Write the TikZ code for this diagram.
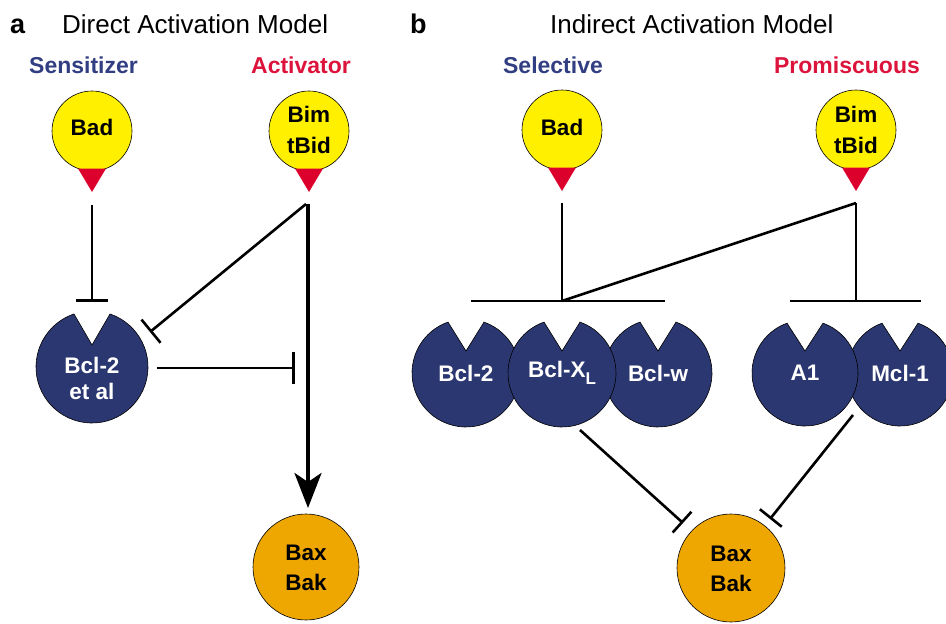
\documentclass[tikz,border=0pt]{standalone}
\usepackage{fontspec}
\setmainfont{Liberation Sans}
\usetikzlibrary{arrows.meta,calc}
\definecolor{navy}{RGB}{43,55,112}
\definecolor{pinyellow}{RGB}{255,240,0}
\definecolor{pinred}{RGB}{220,0,45}
\definecolor{baxorange}{RGB}{238,166,0}
\definecolor{labelblue}{RGB}{50,62,130}
\definecolor{labelred}{RGB}{220,20,60}
\tikzset{
  lbl/.style={font=\fontsize{22.5}{31}\selectfont\bfseries, inner sep=0pt, align=center},
  wlbl/.style={lbl, text=white},
  head/.style={font=\fontsize{26}{30}\selectfont, inner sep=0pt, anchor=base west},
  panel/.style={font=\fontsize{27}{30}\selectfont\bfseries, inner sep=0pt, anchor=base west},
  grp/.style={font=\fontsize{23}{27}\selectfont\bfseries, inner sep=0pt, anchor=base},
  conn/.style={line width=2.6pt},
  inh/.style={conn, -{Bar[width=30pt]}},
  act/.style={line width=3.8pt, -{Stealth[length=35pt,width=27pt,inset=9pt]}},
  outline/.style={draw=black, line width=0.6pt}
}
% pin: name, x, y
\newcommand\pinshape[3]{%
  \fill[pinyellow, outline] (#2,#3) circle[radius=40];
  \fill[pinred] ({#2-14},{#3+37.5}) -- ({#2+14},{#3+37.5}) -- (#2,{#3+61}) -- cycle;
  \coordinate (#1-tip) at (#2,{#3+61});
}
% notched circle: x, y, r
\newcommand\notchshape[3]{%
  \fill[navy, outline] ({#1+18},{#2-sqrt(#3*#3-324)})
    arc[start angle={-90+asin(18/#3)}, end angle={270-asin(18/#3)}, radius=#3]
    -- (#1,{#2-22}) -- cycle;
}
\begin{document}
\begin{tikzpicture}[x=1pt,y=-1pt]
\useasboundingbox (0,0) rectangle (946,624);

% ---------- headings ----------
\node[panel] (pa) at (10,33) {a};
\node[head] (ta) at (62,33) {Direct Activation Model};
\node[panel] (pb) at (410,33) {b};
\node[head] (tb) at (550,33) {Indirect Activation Model};

\node[grp, text=labelblue] (sens) at (83.5,73) {Sensitizer};
\node[grp, text=labelred] (actv) at (301,73) {Activator};
\node[grp, text=labelblue] (sel) at (553,73) {Selective};
\node[grp, text=labelred] (prom) at (847,73) {Promiscuous};

% ---------- panel a ----------
\pinshape{aBad}{92}{131}
\node[lbl] (aBadT) at (92,127) {Bad};
\pinshape{aBim}{309}{131}
\node[lbl] (aBimT) at (309,130) {Bim\\tBid};

\notchshape{92}{367}{56}
\node[wlbl, font=\fontsize{22.5}{26}\selectfont\bfseries] (aBcl) at (92,378) {Bcl-2\\et al};

\fill[baxorange, outline] (306,567) circle[radius=53];
\node[lbl, font=\fontsize{22.5}{30}\selectfont\bfseries] (aBax) at (306,568) {Bax\\Bak};

\coordinate (a1s) at (92,205);
\coordinate (a1e) at (92,302);
\coordinate (a2s) at (306,204);
\coordinate (a2e) at (150,332);
\coordinate (a3s) at (157,368);
\coordinate (a3e) at (295,368);
\coordinate (a4s) at (308,204);
\coordinate (a4e) at (308,508);

\draw[inh, -{Bar[width=32pt]}] (a1s) -- (a1e);
\draw[inh] (a2s) -- (a2e);
\draw[inh, -{Bar[width=32pt]}] (a3s) -- (a3e);
\draw[act] (a4s) -- (a4e);

% ---------- panel b ----------
\pinshape{bBad}{562}{130}
\node[lbl] (bBadT) at (562,127) {Bad};
\pinshape{bBim}{856}{130}
\node[lbl] (bBimT) at (856,130) {Bim\\tBid};

\notchshape{466}{373}{54}
\notchshape{658}{373}{54}
\notchshape{562}{373}{54}
\notchshape{900}{373}{53}
\notchshape{805}{373}{53}
\node[wlbl] (bBcl2) at (466,373) {Bcl-2};
\node[wlbl] (bBclx) at (562,373) {Bcl-X\raisebox{-0.32em}{\fontsize{17}{17}\selectfont L}};
\node[wlbl] (bBclw) at (658,373) {Bcl-w};
\node[wlbl] (bA1) at (805,373) {A1};
\node[wlbl] (bMcl) at (900,373) {Mcl-1};

\fill[baxorange, outline] (731,568) circle[radius=54];
\node[lbl, font=\fontsize{22.5}{30}\selectfont\bfseries] (bBax) at (731,569) {Bax\\Bak};

\coordinate (b1s) at (562,203);
\coordinate (b1e) at (562,301);
\coordinate (bar1l) at (471,301);
\coordinate (bar1r) at (665,301);
\coordinate (b2s) at (856,203);
\coordinate (b2e) at (856,301);
\coordinate (bar2l) at (790,301);
\coordinate (bar2r) at (921,301);
\coordinate (b3s) at (580,430);
\coordinate (b3e) at (683,523);
\coordinate (b4s) at (853,415);
\coordinate (b4e) at (770,519);

\draw[conn] (b1s) -- (b1e);
\draw[conn] (bar1l) -- (bar1r);
\draw[conn] (b2s) -- (b2e);
\draw[conn] (bar2l) -- (bar2r);
\draw[conn] (b2s) -- (b1e);
\draw[inh, -{Bar[width=28pt]}] (b3s) -- (b3e);
\draw[inh, -{Bar[width=28pt]}] (b4s) -- (b4e);
\end{tikzpicture}
\end{document}
